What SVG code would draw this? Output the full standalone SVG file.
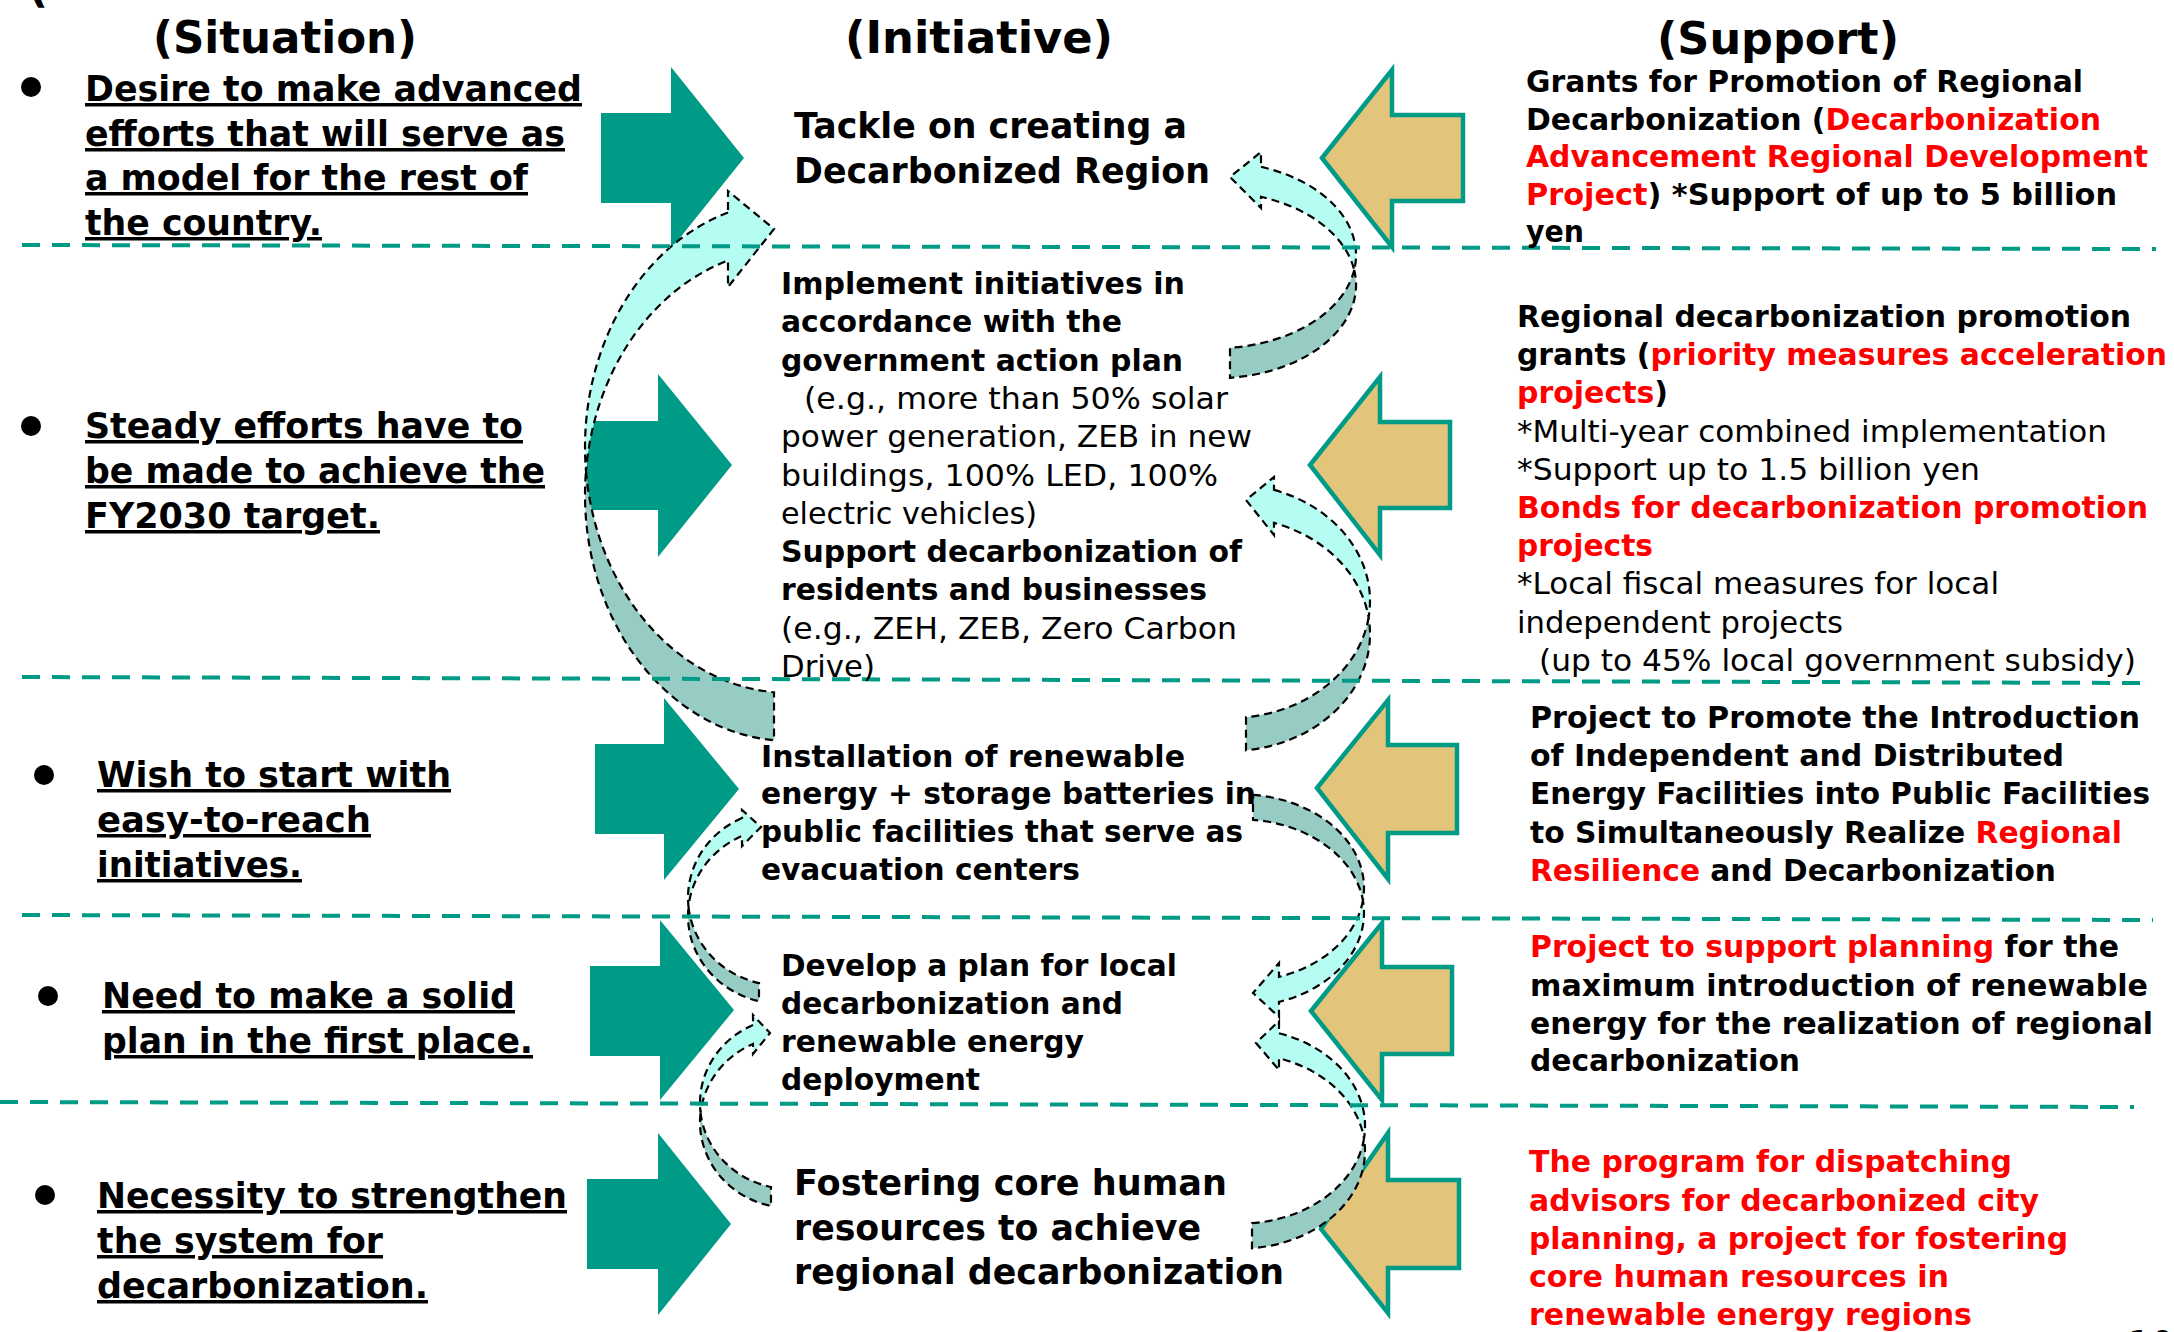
<svg xmlns="http://www.w3.org/2000/svg" width="2174" height="1332" viewBox="0 0 2174 1332">
<style>
text{font-family:"DejaVu Sans",Verdana,sans-serif;fill:#000}
.h{font-weight:bold;font-size:44px}
.s{font-weight:bold;font-size:35px;text-decoration:underline;text-decoration-thickness:3px;text-underline-offset:5px}
.b{font-weight:bold;font-size:30px}
.n{font-weight:normal;font-size:30px}
.B{font-weight:bold;font-size:35px}
.r{fill:#ff0000}
.sep{stroke:#009b86;stroke-width:4;stroke-dasharray:18 12;fill:none}
.ga{fill:#009b86}
.ta{fill:#e2c57a;stroke:#009b86;stroke-width:4.5}
.cl{fill:#b5fdf2;stroke:#000;stroke-width:2.2;stroke-dasharray:8 5}
.cd{fill:#97ccc4;stroke:#000;stroke-width:2.2;stroke-dasharray:8 5}
</style>
<rect width="2174" height="1332" fill="#fff"/>

<g id="headings">
<text class="h" x="28" y="2">(</text>
<text class="h" x="153" y="53" textLength="264" lengthAdjust="spacingAndGlyphs">(Situation)</text>
<text class="h" x="845" y="53" textLength="268" lengthAdjust="spacingAndGlyphs">(Initiative)</text>
<text class="h" x="1657" y="54" textLength="242" lengthAdjust="spacingAndGlyphs">(Support)</text>
</g>

<g id="connectors">
<!-- green situation arrows -->
<polygon class="ga" points="601,113 671,113 671,67 744,158 671,249 671,203 601,203"/>
<polygon class="ga" points="587,421 658,421 658,374 732,465 658,557 658,510 587,510"/>
<polygon class="ga" points="595,744 664,744 664,698 739,789 664,880 664,834 595,834"/>
<polygon class="ga" points="590,966 660,966 660,920 734,1010 660,1100 660,1056 590,1056"/>
<polygon class="ga" points="587,1179 658,1179 658,1133 731,1224 658,1315 658,1269 587,1269"/>
<!-- tan support arrows -->
<polygon class="ta" points="1322,158 1392,70 1392,115 1463,115 1463,201 1392,201 1392,247"/>
<polygon class="ta" points="1310,465 1380,377 1380,422 1450,422 1450,508 1380,508 1380,555"/>
<polygon class="ta" points="1317,788 1388,700 1388,745 1457,745 1457,833 1388,833 1388,879"/>
<polygon class="ta" points="1311,1011 1382,923 1382,967 1452,967 1452,1054 1382,1054 1382,1100"/>
<polygon class="ta" points="1321,1229 1388,1133 1388,1180 1459,1180 1459,1268 1388,1268 1388,1313"/>
<!-- curved arrows -->
<path class="cd" d="M586,471 A205,246 0 0 0 774,692.3 L774,740.3 A205,246 0 0 1 586,471 Z"/>
<path class="cl" d="M728,212.5 A205,246 0 0 0 586,471 A205,246 0 0 1 728,260.5 L728,287 L774,229 L728,191 Z"/>
<path class="cd" d="M1354.2,270 A141,93.3 0 0 1 1230,347.8 L1230,377.8 A141,93.3 0 0 0 1354.2,270 Z"/>
<path class="cl" d="M1261,166.8 A141,93.3 0 0 1 1354.2,270 A141,93.3 0 0 0 1261,196.8 L1261,208 L1230,177 L1261,152 Z"/>
<path class="cd" d="M1368.6,617.5 A140,117 0 0 1 1246,717.2 L1246,750.2 A140,117 0 0 0 1368.6,617.5 Z"/>
<path class="cl" d="M1274,489.9 A140,117 0 0 1 1368.6,617.5 A140,117 0 0 0 1274,522.9 L1274,535 L1246,500 L1274,477 Z"/>
<path class="cd" d="M1253,794.8 A124,93.7 0 0 1 1362.9,900.5 A124,93.7 0 0 0 1253,819.8 Z"/>
<path class="cl" d="M1362.9,900.5 A124,93.7 0 0 1 1279,976.9 L1279,963 L1253,993 L1279,1017 L1279,1001.9 A124,93.7 0 0 0 1362.9,900.5 Z"/>
<path class="cd" d="M1364,1138.5 A125,97.7 0 0 1 1252,1223.2 L1252,1248.2 A125,97.7 0 0 0 1364,1138.5 Z"/>
<path class="cl" d="M1279,1033.2 A125,97.7 0 0 1 1364,1138.5 A125,97.7 0 0 0 1279,1058.2 L1279,1070 L1256,1043 L1279,1021 Z"/>
<path class="cd" d="M688.5,906.8 A92,87.6 0 0 0 759,983.1 L759,1001.1 A92,87.6 0 0 1 688.5,906.8 Z"/>
<path class="cl" d="M742,818 A92,87.6 0 0 0 688.5,906.8 A92,87.6 0 0 1 742,836 L742,846 L761,827 L742,810 Z"/>
<path class="cd" d="M700.55,1112.7 A90,85.75 0 0 0 771,1187 L771,1206 A90,85.75 0 0 1 700.55,1112.7 Z"/>
<path class="cl" d="M753,1025 A90,85.75 0 0 0 700.55,1112.7 A90,85.75 0 0 1 753,1044 L753,1054 L770,1033 L753,1015 Z"/>
</g>

<g id="separators">
<line class="sep" x1="22" y1="245" x2="2156" y2="249"/>
<line class="sep" x1="22" y1="677" x2="2152" y2="683"/>
<line class="sep" x1="22" y1="915" x2="2153" y2="920"/>
<line class="sep" x1="0" y1="1102" x2="2134" y2="1107"/>
</g>

<g id="situation-1">
<circle cx="31" cy="87" r="10"/>
<text class="s" x="85" y="101" textLength="497" lengthAdjust="spacingAndGlyphs">Desire to make advanced</text>
<text class="s" x="85" y="146" textLength="480" lengthAdjust="spacingAndGlyphs">efforts that will serve as</text>
<text class="s" x="85" y="190" textLength="443" lengthAdjust="spacingAndGlyphs">a model for the rest of</text>
<text class="s" x="85" y="235" textLength="237" lengthAdjust="spacingAndGlyphs">the country.</text>
</g>
<g id="situation-2">
<circle cx="31" cy="426" r="10"/>
<text class="s" x="85" y="438" textLength="438" lengthAdjust="spacingAndGlyphs">Steady efforts have to</text>
<text class="s" x="85" y="483" textLength="460" lengthAdjust="spacingAndGlyphs">be made to achieve the</text>
<text class="s" x="85" y="528" textLength="295" lengthAdjust="spacingAndGlyphs">FY2030 target.</text>
</g>
<g id="situation-3">
<circle cx="44" cy="775" r="10"/>
<text class="s" x="97" y="787" textLength="354" lengthAdjust="spacingAndGlyphs">Wish to start with</text>
<text class="s" x="97" y="832" textLength="274" lengthAdjust="spacingAndGlyphs">easy-to-reach</text>
<text class="s" x="97" y="877" textLength="205" lengthAdjust="spacingAndGlyphs">initiatives.</text>
</g>
<g id="situation-4">
<circle cx="48" cy="996" r="10"/>
<text class="s" x="102" y="1008" textLength="413" lengthAdjust="spacingAndGlyphs">Need to make a solid</text>
<text class="s" x="102" y="1053" textLength="431" lengthAdjust="spacingAndGlyphs">plan in the first place.</text>
</g>
<g id="situation-5">
<circle cx="45" cy="1195" r="10"/>
<text class="s" x="97" y="1208" textLength="470" lengthAdjust="spacingAndGlyphs">Necessity to strengthen</text>
<text class="s" x="97" y="1253" textLength="286" lengthAdjust="spacingAndGlyphs">the system for</text>
<text class="s" x="97" y="1298" textLength="331" lengthAdjust="spacingAndGlyphs">decarbonization.</text>
</g>

<g id="initiative-1">
<text class="B" x="794" y="138" textLength="393" lengthAdjust="spacingAndGlyphs">Tackle on creating a</text>
<text class="B" x="794" y="183" textLength="416" lengthAdjust="spacingAndGlyphs">Decarbonized Region</text>
</g>
<g id="initiative-2">
<text class="b" x="781" y="294" textLength="404" lengthAdjust="spacingAndGlyphs">Implement initiatives in</text>
<text class="b" x="781" y="332.3" textLength="341" lengthAdjust="spacingAndGlyphs">accordance with the</text>
<text class="b" x="781" y="370.6" textLength="402" lengthAdjust="spacingAndGlyphs">government action plan</text>
<text class="n" x="804" y="408.9" textLength="424" lengthAdjust="spacingAndGlyphs">(e.g., more than 50% solar</text>
<text class="n" x="781" y="447.2" textLength="471" lengthAdjust="spacingAndGlyphs">power generation, ZEB in new</text>
<text class="n" x="781" y="485.5" textLength="437" lengthAdjust="spacingAndGlyphs">buildings, 100% LED, 100%</text>
<text class="n" x="781" y="523.8" textLength="256" lengthAdjust="spacingAndGlyphs">electric vehicles)</text>
<text class="b" x="781" y="562.1" textLength="461" lengthAdjust="spacingAndGlyphs">Support decarbonization of</text>
<text class="b" x="781" y="600.4" textLength="426" lengthAdjust="spacingAndGlyphs">residents and businesses</text>
<text class="n" x="781" y="638.7" textLength="456" lengthAdjust="spacingAndGlyphs">(e.g., ZEH, ZEB, Zero Carbon</text>
<text class="n" x="781" y="677" textLength="94" lengthAdjust="spacingAndGlyphs">Drive)</text>
</g>
<g id="initiative-3">
<text class="b" x="761" y="767" textLength="424" lengthAdjust="spacingAndGlyphs">Installation of renewable</text>
<text class="b" x="761" y="804" textLength="495" lengthAdjust="spacingAndGlyphs">energy + storage batteries in</text>
<text class="b" x="761" y="842" textLength="482" lengthAdjust="spacingAndGlyphs">public facilities that serve as</text>
<text class="b" x="761" y="880" textLength="319" lengthAdjust="spacingAndGlyphs">evacuation centers</text>
</g>
<g id="initiative-4">
<text class="b" x="781" y="976" textLength="396" lengthAdjust="spacingAndGlyphs">Develop a plan for local</text>
<text class="b" x="781" y="1014" textLength="342" lengthAdjust="spacingAndGlyphs">decarbonization and</text>
<text class="b" x="781" y="1052" textLength="303" lengthAdjust="spacingAndGlyphs">renewable energy</text>
<text class="b" x="781" y="1090" textLength="199" lengthAdjust="spacingAndGlyphs">deployment</text>
</g>
<g id="initiative-5">
<text class="B" x="794" y="1195" textLength="433" lengthAdjust="spacingAndGlyphs">Fostering core human</text>
<text class="B" x="794" y="1240" textLength="407" lengthAdjust="spacingAndGlyphs">resources to achieve</text>
<text class="B" x="794" y="1284" textLength="490" lengthAdjust="spacingAndGlyphs">regional decarbonization</text>
</g>

<g id="support-1">
<text class="b" x="1526" y="92" textLength="557" lengthAdjust="spacingAndGlyphs">Grants for Promotion of Regional</text>
<text class="b" x="1526" y="129.5" textLength="575" lengthAdjust="spacingAndGlyphs">Decarbonization (<tspan class="r">Decarbonization</tspan></text>
<text class="b r" x="1526" y="167" textLength="622" lengthAdjust="spacingAndGlyphs">Advancement Regional Development</text>
<text class="b" x="1526" y="204.5" textLength="591" lengthAdjust="spacingAndGlyphs"><tspan class="r">Project</tspan>) *Support of up to 5 billion</text>
<text class="b" x="1526" y="242" textLength="58" lengthAdjust="spacingAndGlyphs">yen</text>
</g>
<g id="support-2">
<text class="b" x="1517" y="327" textLength="614" lengthAdjust="spacingAndGlyphs">Regional decarbonization promotion</text>
<text class="b" x="1517" y="365.2" textLength="650" lengthAdjust="spacingAndGlyphs">grants (<tspan class="r">priority measures acceleration</tspan></text>
<text class="b" x="1517" y="403.4" textLength="151" lengthAdjust="spacingAndGlyphs"><tspan class="r">projects</tspan>)</text>
<text class="n" x="1517" y="441.6" textLength="590" lengthAdjust="spacingAndGlyphs">*Multi-year combined implementation</text>
<text class="n" x="1517" y="479.8" textLength="463" lengthAdjust="spacingAndGlyphs">*Support up to 1.5 billion yen</text>
<text class="b r" x="1517" y="518" textLength="631" lengthAdjust="spacingAndGlyphs">Bonds for decarbonization promotion</text>
<text class="b r" x="1517" y="556.2" textLength="136" lengthAdjust="spacingAndGlyphs">projects</text>
<text class="n" x="1517" y="594.4" textLength="482" lengthAdjust="spacingAndGlyphs">*Local fiscal measures for local</text>
<text class="n" x="1517" y="632.6" textLength="326" lengthAdjust="spacingAndGlyphs">independent projects</text>
<text class="n" x="1539" y="670.8" textLength="597" lengthAdjust="spacingAndGlyphs">(up to 45% local government subsidy)</text>
</g>
<g id="support-3">
<text class="b" x="1530" y="728" textLength="610" lengthAdjust="spacingAndGlyphs">Project to Promote the Introduction</text>
<text class="b" x="1530" y="766" textLength="534" lengthAdjust="spacingAndGlyphs">of Independent and Distributed</text>
<text class="b" x="1530" y="804" textLength="620" lengthAdjust="spacingAndGlyphs">Energy Facilities into Public Facilities</text>
<text class="b" x="1530" y="843" textLength="592" lengthAdjust="spacingAndGlyphs">to Simultaneously Realize <tspan class="r">Regional</tspan></text>
<text class="b" x="1530" y="881" textLength="526" lengthAdjust="spacingAndGlyphs"><tspan class="r">Resilience</tspan> and Decarbonization</text>
</g>
<g id="support-4">
<text class="b" x="1530" y="957" textLength="589" lengthAdjust="spacingAndGlyphs"><tspan class="r">Project to support planning</tspan> for the</text>
<text class="b" x="1530" y="995.5" textLength="618" lengthAdjust="spacingAndGlyphs">maximum introduction of renewable</text>
<text class="b" x="1530" y="1034" textLength="623" lengthAdjust="spacingAndGlyphs">energy for the realization of regional</text>
<text class="b" x="1530" y="1071" textLength="270" lengthAdjust="spacingAndGlyphs">decarbonization</text>
</g>
<g id="support-5">
<text class="b r" x="1529" y="1172" textLength="483" lengthAdjust="spacingAndGlyphs">The program for dispatching</text>
<text class="b r" x="1529" y="1210.5" textLength="510" lengthAdjust="spacingAndGlyphs">advisors for decarbonized city</text>
<text class="b r" x="1529" y="1249" textLength="539" lengthAdjust="spacingAndGlyphs">planning, a project for fostering</text>
<text class="b r" x="1529" y="1287" textLength="420" lengthAdjust="spacingAndGlyphs">core human resources in</text>
<text class="b r" x="1529" y="1325" textLength="443" lengthAdjust="spacingAndGlyphs">renewable energy regions</text>
</g>
<g id="page-number">
<text class="h" x="2128" y="1356" style="font-weight:normal;font-size:36px">10</text>
</g>
</svg>
